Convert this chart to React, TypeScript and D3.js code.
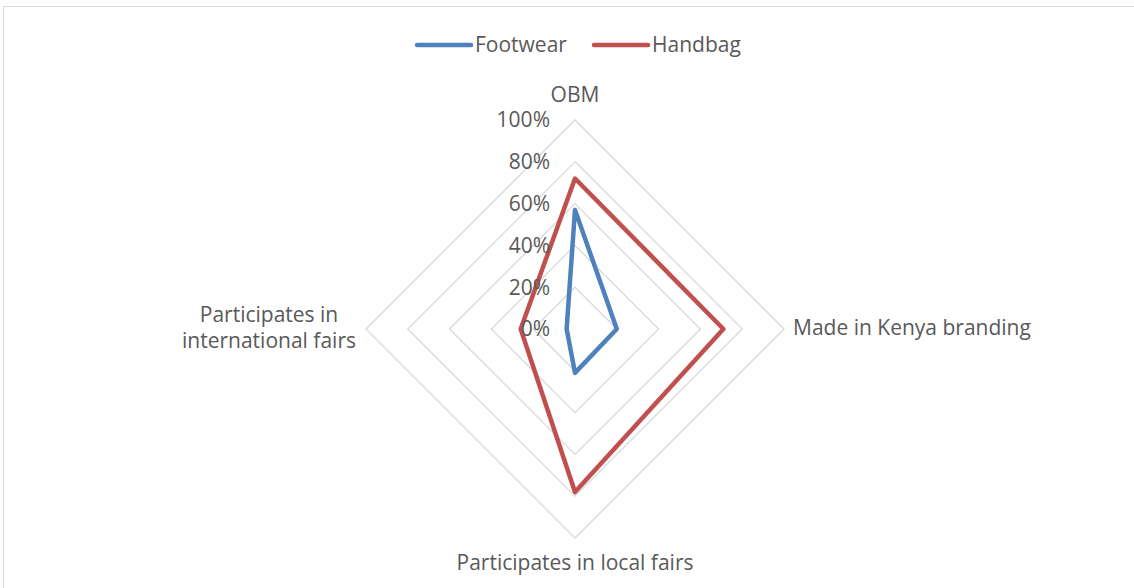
import React from "react";
import * as d3 from "d3";

const categories = ["OBM", "Made in Kenya branding", "Participates in local fairs", "Participates in international fairs"];
const footwear = [0.57, 0.2, 0.21, 0.04];
const handbag = [0.72, 0.71, 0.78, 0.26];
const ticks = [0, 0.2, 0.4, 0.6, 0.8, 1.0];
const seriesNames = ["Footwear", "Handbag"];
const colors = ["#4f81bd", "#c0504d"];

const W = 1134, H = 588;
const cx = 575, cy = 329, R = 209;
const FONT = "'Open Sans', sans-serif";
const FS = 21;

export default function App() {
  const r = d3.scaleLinear().domain([0, 1]).range([0, R]);
  const n = categories.length;
  const angle = (i: number) => (i * 2 * Math.PI) / n;
  const pt = (i: number, v: number): [number, number] => [cx + r(v) * Math.sin(angle(i)), cy - r(v) * Math.cos(angle(i))];
  const line = d3.lineRadial<number>().angle((_, i) => angle(i)).radius((d) => r(d)).curve(d3.curveLinearClosed);
  const series = [footwear, handbag];
  const fmt = d3.format(".0%");
  return (
    <svg width={W} height={H} style={{ position: "absolute", left: 0, top: 0 }} fontFamily={FONT}>
      <rect x={3.5} y={6.5} width={1134} height={590} fill="white" stroke="#d9d9d9" />
      {ticks.slice(1).map((t) => (
        <polygon key={t} points={categories.map((_, i) => pt(i, t).join(",")).join(" ")} fill="none" stroke="#d9d9d9" strokeWidth={1.3} />
      ))}
      {series.map((s, k) => (
        <path key={k} d={line(s) || ""} transform={`translate(${cx},${cy})`} fill="none" stroke={colors[k]} strokeWidth={4.5} strokeLinejoin="round" />
      ))}
      {ticks.map((t) => (
        <text key={t} x={550} y={cy - r(t)} dy="0.35em" textAnchor="end" fontSize={FS} fill="#595959">{fmt(t)}</text>
      ))}
      <text x={cx} y={95} dy="0.35em" textAnchor="middle" fontSize={FS} fill="#595959">{categories[0]}</text>
      <text x={793} y={328} dy="0.35em" textAnchor="start" fontSize={FS} fill="#595959">{categories[1]}</text>
      <text x={575} y={563} dy="0.35em" textAnchor="middle" fontSize={FS} fill="#595959">{categories[2]}</text>
      <text x={269} y={315} dy="0.35em" textAnchor="middle" fontSize={FS} fill="#595959">Participates in</text>
      <text x={269} y={341} dy="0.35em" textAnchor="middle" fontSize={FS} fill="#595959">international fairs</text>
      {seriesNames.map((name, k) => {
        const x0 = k === 0 ? 417 : 594;
        return (
          <g key={name}>
            <line x1={x0} x2={x0 + 54} y1={45} y2={45} stroke={colors[k]} strokeWidth={4.5} strokeLinecap="round" />
            <text x={x0 + 58} y={45} dy="0.35em" fontSize={FS} fill="#595959">{name}</text>
          </g>
        );
      })}
    </svg>
  );
}
